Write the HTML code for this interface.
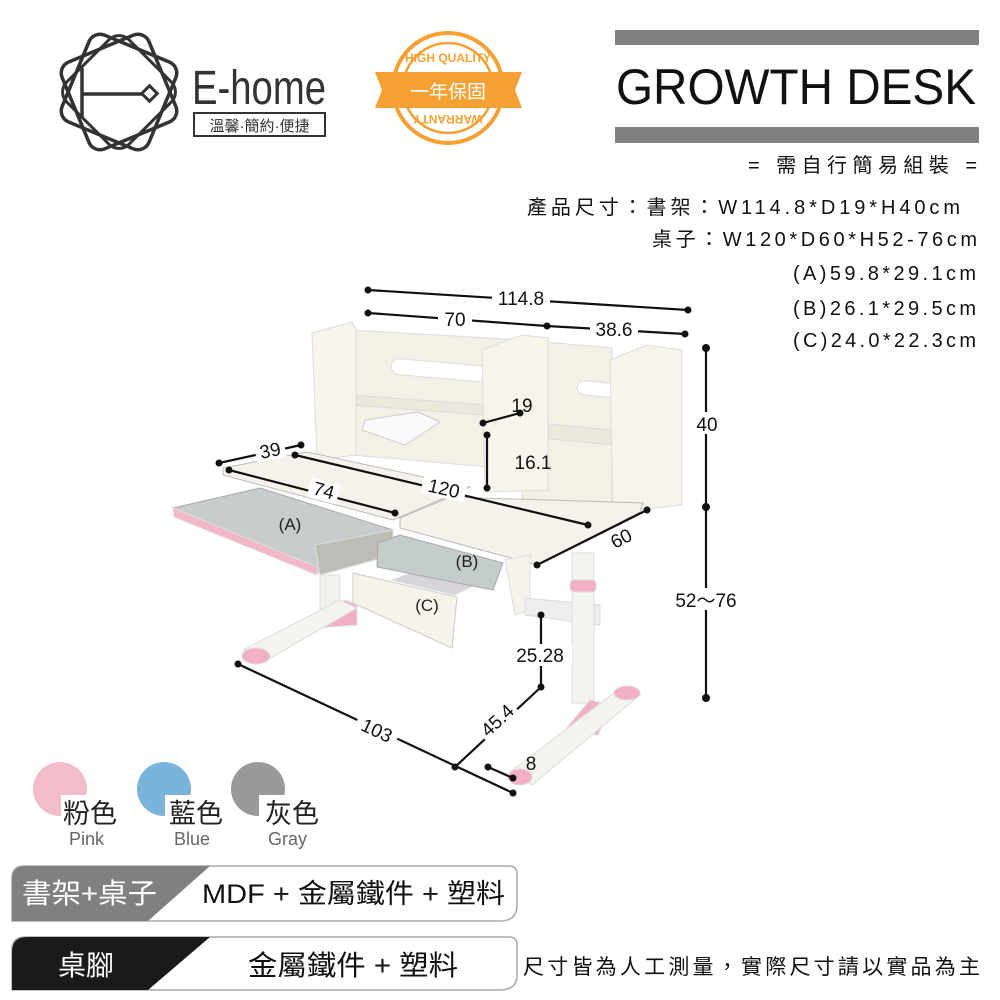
<!DOCTYPE html>
<html><head><meta charset="utf-8"><style>
html,body{margin:0;padding:0;background:#fff;}
svg{display:block;}
text{font-family:"Liberation Sans","Noto Sans CJK TC",sans-serif;}
</style></head><body>
<svg width="1000" height="1000" viewBox="0 0 1000 1000" xmlns="http://www.w3.org/2000/svg">
<rect width="1000" height="1000" fill="#fff"/>
<!-- Logo -->
<g fill="none" stroke="#333" stroke-width="3.5">
  <rect x="72" y="45" width="94" height="94" rx="12" transform="rotate(22.5 119 92)"/>
  <rect x="72" y="45" width="94" height="94" rx="12" transform="rotate(-22.5 119 92)"/>
  <rect x="75" y="48" width="88" height="88" rx="14" transform="rotate(45 119 92)" stroke-width="3"/>
  <line x1="82" y1="68" x2="82" y2="118" stroke-width="3.5"/>
  <line x1="82" y1="94" x2="142" y2="94" stroke-width="3.5"/>
  <rect x="144" y="88" width="11" height="11" transform="rotate(45 149.5 93.5)" stroke-width="3"/>
</g>
<text x="192" y="104" font-size="48" fill="#333" textLength="134" lengthAdjust="spacingAndGlyphs">E-home</text>
<rect x="194" y="113" width="131" height="23" fill="#fff" stroke="#333" stroke-width="2"/>
<text x="259.5" y="131" font-size="15" fill="#333" text-anchor="middle">溫馨·簡約·便捷</text>
<!-- Badge -->
<g>
  <circle cx="448" cy="88" r="55" fill="#fff" stroke="#f5a033" stroke-width="4"/>
  <circle cx="448" cy="88" r="45" fill="none" stroke="#f5a033" stroke-width="2.5"/>
  <text x="448" y="62" font-size="12" font-weight="bold" fill="#f5a033" text-anchor="middle" font-family="Liberation Serif,serif">HIGH QUALITY</text>
  <text x="448" y="123" font-size="12" font-weight="bold" fill="#f5a033" text-anchor="middle" font-family="Liberation Serif,serif" transform="rotate(180 448 119)">WARRANTY</text>
  <polygon points="375,72 522,72 515,90 522,108 375,108 382,90" fill="#f5a033"/>
  <text x="448" y="98" font-size="19" fill="#fff" text-anchor="middle">一年保固</text>
</g>
<!-- Title -->
<rect x="615" y="30" width="364" height="15" fill="#808080"/>
<rect x="615" y="127" width="364" height="16" fill="#808080"/>
<text x="616" y="104" font-size="50" fill="#111" textLength="360" lengthAdjust="spacingAndGlyphs">GROWTH DESK</text>
<g font-size="20" fill="#111" lengthAdjust="spacing">
<text x="748" y="172" textLength="229">=  需自行簡易組裝  =</text>
<text x="527" y="214" textLength="433">產品尺寸：書架：W114.8*D19*H40cm</text>
<text x="652" y="246" textLength="325">桌子：W120*D60*H52-76cm</text>
<text x="793" y="280" textLength="183">(A)59.8*29.1cm</text>
<text x="793" y="315" textLength="183">(B)26.1*29.5cm</text>
<text x="793" y="347" textLength="183">(C)24.0*22.3cm</text>
</g>
<!-- Desk -->
<g stroke="#ddd" stroke-width="1">
  <polygon points="352,330 523,340 523,470 352,455" fill="#f3f0e6"/>
  <polygon points="522,340 612,348 612,510 522,500" fill="#f3f0e6"/>
  <polygon points="352,395 485,405 485,415 352,405" fill="#ebe8dc"/>
  <polygon points="505,420 612,430 612,445 505,435" fill="#ebe8dc"/>
  <rect x="392" y="358" width="110" height="16" rx="8" fill="#fff" transform="rotate(5 392 358)"/>
  <rect x="578" y="380" width="60" height="14" rx="7" fill="#fff" transform="rotate(6 578 380)"/>
  <polygon points="312,333 352,322 356,330 356,455 317,460" fill="#f7f4ec"/>
  <polygon points="482,350 522,335 548,338 548,490 485,492" fill="#f7f4ec"/>
  <polygon points="610,360 647,345 682,350 682,505 613,513" fill="#f7f4ec"/>
  <polygon points="365,420 418,412 440,422 405,445 362,430" fill="#fafafa" stroke="#ccc"/>
  <polygon points="223,468 307,452 470,487 393,520 223,475" fill="#f4f2ea" stroke="#bbb"/>
  <polygon points="173,508 260,488 393,530 390,552 317,573" fill="#c8cccc" stroke="#aaa"/>
  <polygon points="173,508 317,567 317,575 174,517" fill="#f2b8c8"/>
  <polygon points="315,545 393,530 393,555 320,575" fill="#bdbdb8"/>
  <polygon points="400,518 450,497 643,503 640,512 537,565 400,528" fill="#f4f2ea" stroke="#bbb"/>
  <polygon points="353,573 457,597 452,648 353,603" fill="#f6f3ea" stroke="#ccc"/>
  <polygon points="392,580 455,595 475,585 420,570" fill="#d8d4dc"/>
  <polygon points="378,543 400,535 503,563 493,590 377,567" fill="#c5cccc" stroke="#aaa"/>
  <polygon points="505,560 530,555 530,610 515,615" fill="#f5f3ec"/>
  <polygon points="525,598 600,605 600,625 525,615" fill="#eee"/>
  <rect x="320" y="575" width="20" height="40" fill="#f0f0ec"/>
  <polygon points="315,615 345,600 357,605 357,625 315,628" fill="#f2b0c4"/>
  <polygon points="243,650 340,600 357,608 262,663" fill="#f3f3f0"/>
  <ellipse cx="256" cy="656" rx="14" ry="8" fill="#f2b0c4"/>
  <rect x="572" y="553" width="22" height="150" fill="#f3f3ef"/>
  <rect x="570" y="580" width="26" height="12" rx="4" fill="#f2b0c4"/>
  <polygon points="565,730 590,700 610,705 598,735" fill="#f2b0c4"/>
  <polygon points="510,772 615,692 640,695 532,785" fill="#f3f3f0"/>
  <ellipse cx="627" cy="693" rx="13" ry="7" fill="#f2b0c4"/>
  <ellipse cx="520" cy="777" rx="12" ry="8" fill="#f2b0c4"/>
</g>
<!-- dimension lines -->
<g stroke="#111" stroke-width="2.2" fill="#111">
  <line x1="368" y1="290" x2="688" y2="310"/>
  <line x1="368" y1="313" x2="547" y2="326"/>
  <line x1="547" y1="326" x2="685" y2="334"/>
  <line x1="706" y1="348" x2="706" y2="698"/>
  <line x1="483" y1="423" x2="520" y2="413"/>
  <line x1="487" y1="435" x2="487" y2="488"/>
  <line x1="219" y1="463" x2="301" y2="445"/>
  <line x1="229" y1="470" x2="395" y2="513"/>
  <line x1="295" y1="455" x2="588" y2="525"/>
  <line x1="537" y1="565" x2="647" y2="510"/>
  <line x1="541" y1="615" x2="541" y2="687"/>
  <line x1="541" y1="687" x2="455" y2="767"/>
  <line x1="238" y1="664" x2="513" y2="793"/>
  <line x1="488" y1="767" x2="513" y2="778"/>
  <g stroke="none">
  <circle cx="368" cy="290" r="3.5"/><circle cx="688" cy="310" r="3.5"/>
  <circle cx="368" cy="313" r="3.5"/><circle cx="547" cy="326" r="3.5"/><circle cx="685" cy="334" r="3.5"/>
  <circle cx="706" cy="348" r="4"/><circle cx="706" cy="507" r="4"/><circle cx="706" cy="698" r="4"/>
  <circle cx="483" cy="423" r="3.5"/><circle cx="520" cy="413" r="3.5"/>
  <circle cx="487" cy="435" r="3.5"/><circle cx="487" cy="488" r="3.5"/>
  <circle cx="219" cy="463" r="3.5"/><circle cx="301" cy="445" r="3.5"/>
  <circle cx="229" cy="470" r="3.5"/><circle cx="395" cy="513" r="3.5"/>
  <circle cx="295" cy="455" r="3.5"/><circle cx="588" cy="525" r="3.5"/>
  <circle cx="537" cy="565" r="3.5"/><circle cx="647" cy="510" r="3.5"/>
  <circle cx="541" cy="615" r="3.5"/><circle cx="541" cy="687" r="3.5"/>
  <circle cx="455" cy="767" r="3.5"/>
  <circle cx="238" cy="664" r="3.5"/><circle cx="513" cy="793" r="3.5"/>
  <circle cx="488" cy="767" r="3.5"/><circle cx="513" cy="778" r="3.5"/>
  </g>
</g>
<g font-size="19" fill="#111" text-anchor="middle">
  <rect x="492" y="287" width="58" height="18" fill="#fff"/>
  <text x="521" y="305">114.8</text>
  <rect x="438" y="309" width="34" height="18" fill="#fff"/>
  <text x="455" y="326">70</text>
  <rect x="590" y="320" width="48" height="18" fill="#fff"/>
  <text x="614" y="336">38.6</text>
  <rect x="692" y="412" width="30" height="22" fill="#fff"/>
  <text x="707" y="431">40</text>
  <rect x="668" y="588" width="76" height="22" fill="#fff"/>
  <text x="706" y="607">52～76</text>
  <text x="522" y="412">19</text>
  <text x="533" y="469">16.1</text>
  <rect x="255" y="440" width="30" height="20" fill="#fff" transform="rotate(-12 270 450)"/>
  <text x="270" y="457" transform="rotate(-12 270 450)">39</text>
  <rect x="309" y="481" width="30" height="20" fill="#fff" transform="rotate(15 324 490)"/>
  <text x="324" y="497" transform="rotate(15 324 490)">74</text>
  <rect x="422" y="478" width="44" height="20" fill="#fff" transform="rotate(13 444 488)"/>
  <text x="444" y="495" transform="rotate(13 444 488)">120</text>
  <rect x="606" y="528" width="30" height="20" fill="#fff" transform="rotate(-27 621 538)"/>
  <text x="621" y="545" transform="rotate(-27 621 538)">60</text>
  <rect x="510" y="644" width="62" height="22" fill="#fff"/>
  <text x="540" y="662">25.28</text>
  <rect x="475" y="710" width="44" height="20" fill="#fff" transform="rotate(-43 497 720)"/>
  <text x="497" y="727" transform="rotate(-43 497 720)">45.4</text>
  <rect x="355" y="720" width="44" height="20" fill="#fff" transform="rotate(25 377 730)"/>
  <text x="377" y="737" transform="rotate(25 377 730)">103</text>
  <text x="531" y="770">8</text>
  <text x="290" y="530" font-size="17" fill="#222">(A)</text>
  <text x="467" y="567" font-size="17" fill="#222">(B)</text>
  <text x="427" y="611" font-size="17" fill="#222">(C)</text>
</g>
<!-- colour swatches -->
<circle cx="60" cy="789" r="27" fill="#f2bccb"/>
<circle cx="164" cy="789" r="27" fill="#7ab4d8"/>
<circle cx="258" cy="789" r="27" fill="#999"/>
<rect x="61" y="795" width="60" height="40" fill="#fff"/>
<rect x="165" y="795" width="60" height="40" fill="#fff"/>
<rect x="259" y="795" width="60" height="40" fill="#fff"/>
<g font-size="27" fill="#222">
<text x="63" y="823">粉色</text><text x="169" y="823">藍色</text><text x="265" y="823">灰色</text>
</g>
<g font-size="18" fill="#666">
<text x="69" y="845">Pink</text><text x="174" y="845">Blue</text><text x="268" y="845">Gray</text>
</g>
<!-- material bars -->
<path d="M12 878 Q12 866 24 866 L509 866 Q517 866 517 874 L517 905 Q517 921 500 921 L12 921 Z" fill="#fff" stroke="#aaa" stroke-width="1.5"/>
<path d="M12 880 Q12 866 26 866 L210 866 L148 921 L12 921 Z" fill="#808080"/>
<text x="22" y="903" font-size="28" fill="#fff" textLength="135" lengthAdjust="spacingAndGlyphs">書架+桌子</text>
<text x="202" y="903" font-size="27" fill="#111" textLength="303" lengthAdjust="spacingAndGlyphs">MDF + 金屬鐵件 + 塑料</text>
<path d="M12 950 Q12 937 25 937 L509 937 Q517 937 517 945 L517 975 Q517 990 500 990 L12 990 Z" fill="#fff" stroke="#aaa" stroke-width="1.5"/>
<path d="M12 952 Q12 937 27 937 L210 937 L148 990 L12 990 Z" fill="#1a1a1a"/>
<text x="58" y="975" font-size="28" fill="#fff">桌腳</text>
<text x="248" y="975" font-size="28" fill="#111" textLength="210" lengthAdjust="spacingAndGlyphs">金屬鐵件 + 塑料</text>
<text x="523" y="974" font-size="21" fill="#111" textLength="457" lengthAdjust="spacing">尺寸皆為人工測量，實際尺寸請以實品為主</text>
</svg>
</body></html>
